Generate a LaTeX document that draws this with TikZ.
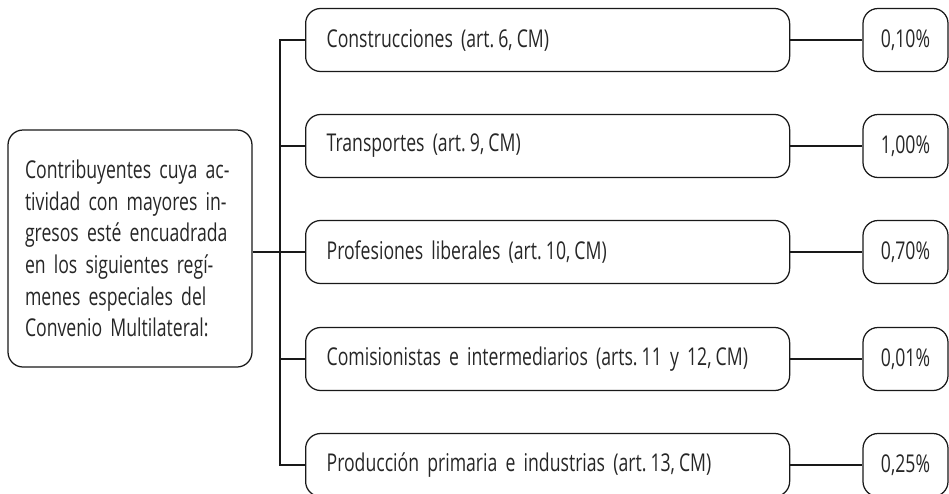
\documentclass[tikz,border=0pt]{standalone}
\usepackage{fontspec}
\setmainfont{Open Sans}[FakeStretch=0.72, WordSpace=0.75]
\begin{document}
\begin{tikzpicture}[x=1pt,y=-1pt,
  every node/.style={font=\fontsize{24.5}{31.7}\selectfont, text=black!85},
  box/.style={draw=black!90, line width=1.25pt, rounded corners=15pt},
  midbox/.style={box, minimum width=484pt, minimum height=63pt, anchor=west, text width=442pt, inner xsep=21pt, align=left},
  pctbox/.style={box, minimum width=85pt, minimum height=63pt, inner xsep=0pt},
  conn/.style={draw=black!90, line width=1.25pt}]
\useasboundingbox (0,0) rectangle (949,493);
\node[box, minimum width=244pt, minimum height=237pt, text width=210pt, inner xsep=17pt, align=left] (left) at (130,248.5)
 {Contribuyentes cuya ac-\\tividad con mayores in-\\gresos esté encuadrada\\en los siguientes regí-\\menes especiales del\\Convenio Multilateral:};
\node[midbox] (m1) at (305,40) {Construcciones (art.\,6,\,CM)};
\node[midbox] (m2) at (305,146) {Transportes (art.\,9,\,CM)};
\node[midbox] (m3) at (305,252) {Profesiones liberales (art.\,10,\,CM)};
\node[midbox] (m4) at (305,359) {Comisionistas e intermediarios (arts.\,11 y 12,\,CM)};
\node[midbox] (m5) at (305,465) {Producción primaria e industrias (art.\,13,\,CM)};
\node[pctbox] (p1) at (905.5,40) {0,10\%};
\node[pctbox] (p2) at (905.5,146) {1,00\%};
\node[pctbox] (p3) at (905.5,252) {0,70\%};
\node[pctbox] (p4) at (905.5,359) {0,01\%};
\node[pctbox] (p5) at (905.5,465) {0,25\%};
\coordinate (ttop) at (280,40);
\coordinate (tbot) at (280,465);
\draw[conn] (m1.west) -- (ttop) -- (tbot) -- (m5.west);
\draw[conn] (left.east |- m3.west) -- (m3.west);
\foreach \i in {2,4} \draw[conn] (m\i.west) -- (ttop |- m\i.west);
\foreach \i in {1,...,5} \draw[conn] (m\i.east) -- (p\i.west);
\end{tikzpicture}
\end{document}
